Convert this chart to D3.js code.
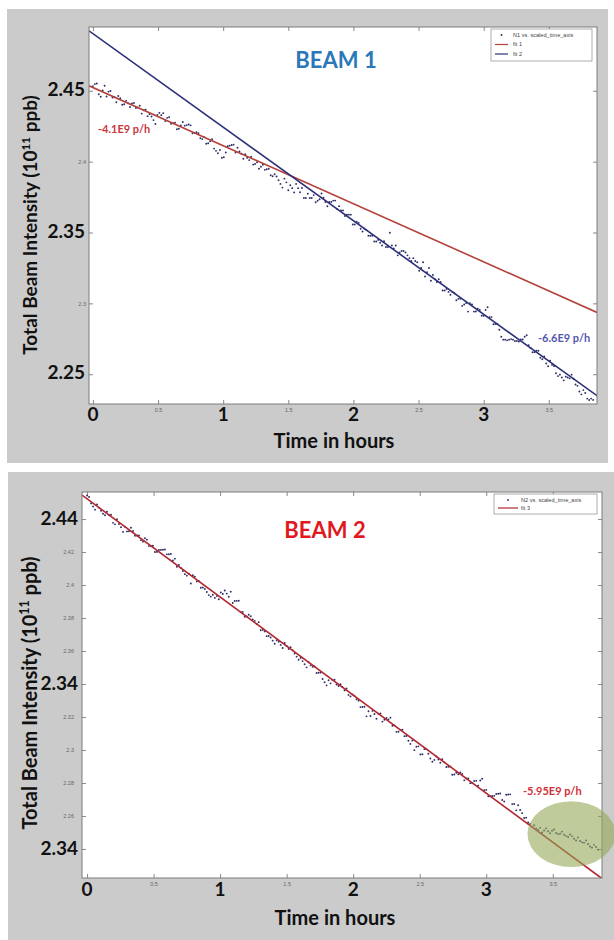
<!DOCTYPE html>
<html>
<head>
<meta charset="utf-8">
<script src="https://cdn.jsdelivr.net/npm/d3@7"></script>
<style>
  body { margin: 0; background: #ffffff; }
  svg { display: block; }
</style>
</head>
<body>
<svg id="fig" width="614" height="940"></svg>
<script>
// ---- data -------------------------------------------------------------
// sample times (hours since start of the fill)
const hours = [
  0.000,0.015,0.030,0.045,0.060,0.075,0.090,0.105,0.120,0.135,
  0.150,0.165,0.180,0.195,0.210,0.225,0.240,0.255,0.270,0.285,
  0.300,0.315,0.330,0.345,0.360,0.375,0.390,0.405,0.420,0.435,
  0.450,0.465,0.480,0.495,0.510,0.525,0.540,0.555,0.570,0.585,
  0.600,0.615,0.630,0.645,0.660,0.675,0.690,0.705,0.720,0.735,
  0.750,0.765,0.780,0.795,0.810,0.825,0.840,0.855,0.870,0.885,
  0.900,0.915,0.930,0.945,0.960,0.975,0.990,1.005,1.020,1.035,
  1.050,1.065,1.080,1.095,1.110,1.125,1.140,1.155,1.170,1.185,
  1.200,1.215,1.230,1.245,1.260,1.275,1.290,1.305,1.320,1.335,
  1.350,1.365,1.380,1.395,1.410,1.425,1.440,1.455,1.470,1.485,
  1.500,1.515,1.530,1.545,1.560,1.575,1.590,1.605,1.620,1.635,
  1.650,1.665,1.680,1.695,1.710,1.725,1.740,1.755,1.770,1.785,
  1.800,1.815,1.830,1.845,1.860,1.875,1.890,1.905,1.920,1.935,
  1.950,1.965,1.980,1.995,2.010,2.025,2.040,2.055,2.070,2.085,
  2.100,2.115,2.130,2.145,2.160,2.175,2.190,2.205,2.220,2.235,
  2.250,2.265,2.280,2.295,2.310,2.325,2.340,2.355,2.370,2.385,
  2.400,2.415,2.430,2.445,2.460,2.475,2.490,2.505,2.520,2.535,
  2.550,2.565,2.580,2.595,2.610,2.625,2.640,2.655,2.670,2.685,
  2.700,2.715,2.730,2.745,2.760,2.775,2.790,2.805,2.820,2.835,
  2.850,2.865,2.880,2.895,2.910,2.925,2.940,2.955,2.970,2.985,
  3.000,3.015,3.030,3.045,3.060,3.075,3.090,3.105,3.120,3.135,
  3.150,3.165,3.180,3.195,3.210,3.225,3.240,3.255,3.270,3.285,
  3.300,3.315,3.330,3.345,3.360,3.375,3.390,3.405,3.420,3.435,
  3.450,3.465,3.480,3.495,3.510,3.525,3.540,3.555,3.570,3.585,
  3.600,3.615,3.630,3.645,3.660,3.675,3.690,3.705,3.720,3.735,
  3.750,3.765,3.780,3.795,3.810,3.825,3.840
];

// total beam intensity, units of 1e11 protons
const beam1 = [
  2.4533,2.4547,2.4551,2.4475,2.4458,2.4502,2.4536,2.4460,2.4494,2.4498,
  2.4452,2.4456,2.4419,2.4463,2.4447,2.4401,2.4405,2.4429,2.4412,2.4386,
  2.4410,2.4414,2.4378,2.4382,2.4395,2.4339,2.4363,2.4367,2.4321,2.4335,
  2.4319,2.4293,2.4266,2.4330,2.4344,2.4328,2.4342,2.4286,2.4309,2.4313,
  2.4267,2.4271,2.4275,2.4229,2.4232,2.4256,2.4280,2.4254,2.4258,2.4262,
  2.4256,2.4200,2.4203,2.4207,2.4201,2.4165,2.4159,2.4173,2.4126,2.4130,
  2.4144,2.4158,2.4092,2.4076,2.4059,2.4083,2.4027,2.4031,2.4065,2.4109,
  2.4113,2.4117,2.4120,2.4064,2.4098,2.4072,2.4056,2.4020,2.4053,2.4027,
  2.4011,2.4035,2.3979,2.3983,2.3996,2.3950,2.3964,2.3978,2.3942,2.3946,
  2.3950,2.3904,2.3897,2.3911,2.3895,2.3869,2.3843,2.3817,2.3880,2.3854,
  2.3798,2.3833,2.3813,2.3783,2.3843,2.3813,2.3784,2.3814,2.3744,2.3744,
  2.3774,2.3744,2.3744,2.3764,2.3714,2.3724,2.3735,2.3775,2.3745,2.3715,
  2.3685,2.3715,2.3715,2.3725,2.3725,2.3665,2.3686,2.3656,2.3656,2.3616,
  2.3626,2.3626,2.3626,2.3556,2.3556,2.3576,2.3567,2.3527,2.3507,2.3527,
  2.3517,2.3477,2.3477,2.3477,2.3437,2.3437,2.3448,2.3428,2.3408,2.3438,
  2.3398,2.3398,2.3498,2.3408,2.3388,2.3408,2.3339,2.3359,2.3369,2.3369,
  2.3359,2.3339,2.3319,2.3299,2.3319,2.3299,2.3290,2.3230,2.3250,2.3290,
  2.3190,2.3220,2.3250,2.3160,2.3200,2.3170,2.3151,2.3171,2.3151,2.3091,
  2.3091,2.3101,2.3081,2.3061,2.3081,2.3071,2.3022,2.3032,2.3032,2.2982,
  2.2992,2.3002,2.2942,2.3002,2.2992,2.2942,2.2943,2.2963,2.2953,2.2913,
  2.2913,2.2953,2.2973,2.2903,2.2903,2.2853,2.2854,2.2854,2.2814,2.2764,
  2.2744,2.2744,2.2739,2.2744,2.2748,2.2744,2.2735,2.2735,2.2731,2.2745,
  2.2745,2.2765,2.2775,2.2705,2.2685,2.2655,2.2656,2.2666,2.2666,2.2616,
  2.2606,2.2626,2.2576,2.2556,2.2596,2.2566,2.2557,2.2507,2.2487,2.2497,
  2.2477,2.2457,2.2483,2.2477,2.2471,2.2497,2.2468,2.2428,2.2418,2.2378,
  2.2358,2.2388,2.2368,2.2328,2.2318,2.2328,2.2319
];

const beam2 = [
  2.4543,2.4534,2.4495,2.4476,2.4457,2.4488,2.4469,2.4450,2.4432,2.4423,
  2.4444,2.4425,2.4426,2.4377,2.4368,2.4399,2.4370,2.4351,2.4322,2.4353,
  2.4325,2.4326,2.4347,2.4328,2.4299,2.4300,2.4301,2.4272,2.4263,2.4284,
  2.4275,2.4236,2.4237,2.4238,2.4200,2.4201,2.4212,2.4213,2.4214,2.4215,
  2.4186,2.4187,2.4188,2.4149,2.4160,2.4111,2.4122,2.4103,2.4085,2.4066,
  2.4057,2.4068,2.4009,2.4060,2.4051,2.4022,2.4023,2.3984,2.3985,2.3976,
  2.3958,2.3939,2.3930,2.3941,2.3922,2.3933,2.3914,2.3955,2.3946,2.3967,
  2.3948,2.3929,2.3960,2.3891,2.3903,2.3904,2.3905,2.3836,2.3837,2.3808,
  2.3809,2.3820,2.3811,2.3792,2.3783,2.3764,2.3775,2.3726,2.3728,2.3719,
  2.3690,2.3691,2.3682,2.3663,2.3644,2.3665,2.3656,2.3637,2.3618,2.3649,
  2.3631,2.3612,2.3623,2.3604,2.3585,2.3566,2.3547,2.3558,2.3539,2.3520,
  2.3501,2.3532,2.3513,2.3504,2.3506,2.3467,2.3468,2.3469,2.3430,2.3411,
  2.3392,2.3423,2.3404,2.3425,2.3426,2.3397,2.3388,2.3399,2.3381,2.3362,
  2.3373,2.3334,2.3325,2.3336,2.3327,2.3308,2.3299,2.3260,2.3261,2.3262,
  2.3204,2.3235,2.3206,2.3237,2.3218,2.3189,2.3220,2.3221,2.3172,2.3183,
  2.3194,2.3185,2.3196,2.3147,2.3149,2.3110,2.3111,2.3122,2.3123,2.3084,
  2.3085,2.3056,2.3037,2.3058,2.2999,2.3020,2.3022,2.2973,2.2974,2.3005,
  2.3006,2.2977,2.2948,2.2929,2.2940,2.2961,2.2942,2.2923,2.2944,2.2925,
  2.2897,2.2898,2.2899,2.2850,2.2851,2.2862,2.2853,2.2864,2.2855,2.2816,
  2.2827,2.2828,2.2799,2.2800,2.2812,2.2813,2.2784,2.2815,2.2826,2.2757,
  2.2758,2.2719,2.2720,2.2721,2.2722,2.2733,2.2735,2.2736,2.2697,2.2688,
  2.2729,2.2730,2.2731,2.2672,2.2673,2.2634,2.2665,2.2636,2.2617,2.2588,
  2.2590,2.2561,2.2552,2.2533,2.2544,2.2525,2.2515,2.2528,2.2500,2.2512,
  2.2525,2.2507,2.2495,2.2510,2.2518,2.2497,2.2490,2.2492,2.2505,2.2486,
  2.2478,2.2473,2.2488,2.2478,2.2462,2.2452,2.2470,2.2448,2.2440,2.2437,
  2.2452,2.2430,2.2415,2.2408,2.2425,2.2412,2.2395
];

// linear fits: intercept (1e11 p) and decay rate (protons per hour)
const fitNames      = ["fit 1", "fit 2", "fit 3"];
const fitIntercepts = [2.4523, 2.4903, 2.4523];
const fitSlopes     = [-4.1e9, -6.6e9, -5.95e9];

const seriesNames = ["N1 vs. scaled_time_axis", "N2 vs. scaled_time_axis"];
const panelTitles = ["BEAM 1", "BEAM 2"];

// tick values and the large overlaid tick labels
const xTicks        = [0, 0.5, 1, 1.5, 2, 2.5, 3, 3.5];
const xBigTicks     = [0, 1, 2, 3];
const yTicks1       = [2.25, 2.3, 2.35, 2.4, 2.45];
const yBigTicks1    = [2.45, 2.35, 2.25];
const yBigText1     = ["2.45", "2.35", "2.25"];
const yTicks2       = [2.24, 2.26, 2.28, 2.3, 2.32, 2.34, 2.36, 2.38, 2.4, 2.42, 2.44];
const yBigTicks2    = [2.44, 2.34, 2.24];
const yBigText2     = ["2.44", "2.34", "2.34"];

// highlighted tail of beam 2 (centre in hours / 1e11 p, half-widths)
const tailHighlight = { t: 3.64, v: 2.249, dt: 0.33, dv: 0.020 };

// ---- styling ------------------------------------------------------------
const BOLD = "Lato, 'Open Sans', 'DejaVu Sans', sans-serif";
const SMALL = "'Liberation Sans', Arial, sans-serif";
const C = {
  panel: "#cbcbcb",
  frame: "#7d7d7d",
  point: "#2c2c68",
  fitRed: "#b4413a",
  fitBlue: "#2c3078",
  fitRed2: "#b3262e",
  text: "#111111",
  tick: "#6a6a6a"
};

const svg = d3.select("#fig");

function drawPanel(cfg) {
  const g = svg.append("g");
  const P = cfg.plot;

  g.append("rect")
    .attr("x", cfg.bg[0]).attr("y", cfg.bg[1])
    .attr("width", cfg.bg[2]).attr("height", cfg.bg[3])
    .attr("fill", C.panel);

  const x = d3.scaleLinear().domain(cfg.xDomain).range([P.left, P.right]);
  const y = d3.scaleLinear().domain(cfg.yDomain).range([P.bottom, P.top]);

  g.append("rect")
    .attr("x", P.left).attr("y", P.top)
    .attr("width", P.right - P.left).attr("height", P.bottom - P.top)
    .attr("fill", "#ffffff");

  const clipId = "clip" + cfg.id;
  g.append("clipPath").attr("id", clipId)
    .append("rect")
    .attr("x", P.left).attr("y", P.top)
    .attr("width", P.right - P.left).attr("height", P.bottom - P.top);

  // axes: small MATLAB-style tick labels, ticks pointing inward on all sides;
  // values that carry a large overlaid label get no small label
  const fmtExcept = big => d => big.some(b => Math.abs(b - d) < 1e-9) ? "" : String(+d.toFixed(2));
  const styleAxis = sel => {
    sel.select(".domain").remove();
    sel.selectAll(".tick line").attr("stroke", C.tick).attr("stroke-width", 0.8);
    sel.selectAll(".tick text").attr("fill", "#666").attr("font-family", SMALL)
      .attr("font-size", 5.5);
  };
  g.append("g").attr("transform", `translate(0,${P.bottom})`)
    .call(d3.axisBottom(x).tickValues(xTicks).tickSize(-4).tickPadding(4).tickFormat(fmtExcept(xBigTicks)))
    .call(styleAxis);
  g.append("g").attr("transform", `translate(0,${P.top})`)
    .call(d3.axisTop(x).tickValues(xTicks).tickSize(-4).tickFormat(""))
    .call(styleAxis);
  g.append("g").attr("transform", `translate(${P.left},0)`)
    .call(d3.axisLeft(y).tickValues(cfg.yTicks).tickSize(-4).tickPadding(cfg.yPad).tickFormat(fmtExcept(cfg.yBig)))
    .call(styleAxis);
  g.append("g").attr("transform", `translate(${P.right},0)`)
    .call(d3.axisRight(y).tickValues(cfg.yTicks).tickSize(-4).tickFormat(""))
    .call(styleAxis);

  const inner = g.append("g").attr("clip-path", `url(#${clipId})`);

  // measured intensity
  inner.append("g").selectAll("circle")
    .data(cfg.values.map((v, i) => [hours[i], v]))
    .join("circle")
    .attr("cx", d => x(d[0])).attr("cy", d => y(d[1]))
    .attr("r", 0.95).attr("fill", C.point);

  // fitted lines across the full time window
  const line = d3.line().x(d => x(d[0])).y(d => y(d[1]));
  cfg.fits.forEach(f => {
    const k = fitSlopes[f.idx] / 1e11;
    const a = fitIntercepts[f.idx];
    const pts = cfg.xDomain.map(t => [t, a + k * t]);
    inner.append("path").attr("d", line(pts))
      .attr("fill", "none").attr("stroke", f.color).attr("stroke-width", 1.6);
  });

  g.append("rect")
    .attr("x", P.left).attr("y", P.top)
    .attr("width", P.right - P.left).attr("height", P.bottom - P.top)
    .attr("fill", "none").attr("stroke", C.frame).attr("stroke-width", 1);

  // legend
  const L = cfg.legend;
  const lg = g.append("g");
  lg.append("rect").attr("x", L.x).attr("y", L.y).attr("width", L.w).attr("height", L.h)
    .attr("fill", "#fff").attr("stroke", "#8a8a8a").attr("stroke-width", 0.7);
  const rows = [{ name: seriesNames[cfg.series], dot: true }]
    .concat(cfg.fits.map(f => ({ name: fitNames[f.idx], color: f.color })));
  rows.forEach((r, i) => {
    const ry = L.y + L.row0 + i * L.rowH;
    if (r.dot) {
      lg.append("circle").attr("cx", L.x + L.sym + L.symW / 2).attr("cy", ry).attr("r", 0.9).attr("fill", C.point);
    } else {
      lg.append("line").attr("x1", L.x + L.sym).attr("x2", L.x + L.sym + L.symW)
        .attr("y1", ry).attr("y2", ry).attr("stroke", r.color).attr("stroke-width", 1.2);
    }
    lg.append("text").attr("x", L.x + L.textX).attr("y", ry + 1.8)
      .attr("font-family", SMALL).attr("font-size", 5.6).attr("fill", "#444")
      .text(r.name);
  });

  // large overlaid tick labels
  g.append("g").selectAll("text").data(xBigTicks).join("text")
    .attr("x", d => x(d)).attr("y", cfg.xBigY)
    .attr("text-anchor", "middle").attr("font-family", BOLD).attr("font-weight", 700)
    .attr("font-size", 19).attr("fill", C.text).text(d => d);
  g.append("g").selectAll("text").data(cfg.yBig).join("text")
    .attr("x", P.left - 4).attr("y", d => y(d) + cfg.yBigDy)
    .attr("text-anchor", "end").attr("font-family", BOLD).attr("font-weight", 700)
    .attr("font-size", 19).attr("fill", C.text).text((d, i) => cfg.yBigText[i]);

  // axis titles
  g.append("text").attr("x", cfg.xTitle[0]).attr("y", cfg.xTitle[1])
    .attr("text-anchor", "middle").attr("font-family", BOLD).attr("font-weight", 700)
    .attr("font-size", 20).attr("fill", C.text).text("Time in hours");
  const yt = g.append("text")
    .attr("transform", `translate(${cfg.yTitle[0]},${cfg.yTitle[1]}) rotate(-90)`)
    .attr("text-anchor", "middle").attr("font-family", BOLD).attr("font-weight", 700)
    .attr("font-size", cfg.yTitleSize).attr("fill", C.text);
  yt.append("tspan").text("Total Beam Intensity (10");
  yt.append("tspan").attr("font-size", cfg.yTitleSize * 0.62).attr("dy", -cfg.yTitleSize * 0.38).text("11");
  yt.append("tspan").attr("dy", cfg.yTitleSize * 0.38).text(" ppb)");

  // panel title
  g.append("text").attr("x", cfg.title[0]).attr("y", cfg.title[1])
    .attr("text-anchor", "middle").attr("font-family", BOLD).attr("font-weight", 700)
    .attr("font-size", 22).attr("fill", cfg.titleColor).text(panelTitles[cfg.series]);

  // decay-rate annotations
  cfg.notes.forEach(n => {
    g.append("text").attr("x", n.x).attr("y", n.y)
      .attr("font-family", BOLD).attr("font-weight", 700).attr("font-size", 11)
      .attr("fill", n.color).text(String(fitSlopes[n.idx] / 1e9) + "E9 p/h");
  });

  return { g, x, y };
}

// ---- beam 1 ---------------------------------------------------------------
drawPanel({
  id: 1, series: 0, values: beam1,
  bg: [7, 9, 601, 454],
  plot: { left: 89, right: 597, top: 27, bottom: 404 },
  xDomain: [-0.03, 3.87], yDomain: [2.229, 2.495],
  yTicks: yTicks1, yPad: 3,
  yBig: yBigTicks1, yBigText: yBigText1, yBigDy: 5,
  xBigY: 421,
  fits: [{ idx: 0, color: C.fitRed }, { idx: 1, color: C.fitBlue }],
  legend: { x: 491, y: 29, w: 101, h: 32, row0: 6, rowH: 9.5, sym: 4, symW: 13, textX: 22 },
  xTitle: [334, 448], yTitle: [37, 225], yTitleSize: 19,
  title: [336, 68], titleColor: "#2a78b8",
  notes: [{ idx: 0, x: 98, y: 133, color: "#c8373c" },
          { idx: 1, x: 538, y: 342, color: "#5558b0" }]
});

// ---- beam 2 ---------------------------------------------------------------
const p2 = drawPanel({
  id: 2, series: 1, values: beam2,
  bg: [8, 472, 606, 468],
  plot: { left: 82, right: 602, top: 492, bottom: 878 },
  xDomain: [-0.038, 3.87], yDomain: [2.2224, 2.4564],
  yTicks: yTicks2, yPad: 8,
  yBig: yBigTicks2, yBigText: yBigText2, yBigDy: 6,
  xBigY: 896,
  fits: [{ idx: 2, color: C.fitRed2 }],
  legend: { x: 494, y: 494, w: 103, h: 20, row0: 6, rowH: 8, sym: 4, symW: 20, textX: 27 },
  xTitle: [335, 925], yTitle: [37, 693], yTitleSize: 20,
  title: [325, 538], titleColor: "#e0191e",
  notes: [{ idx: 2, x: 523, y: 795, color: "#d0303a" }]
});

// translucent marker over the flattening tail of beam 2
p2.g.append("ellipse")
  .attr("cx", p2.x(tailHighlight.t)).attr("cy", p2.y(tailHighlight.v))
  .attr("rx", p2.x(tailHighlight.t + tailHighlight.dt) - p2.x(tailHighlight.t))
  .attr("ry", p2.y(tailHighlight.v - tailHighlight.dv) - p2.y(tailHighlight.v))
  .attr("fill", "rgb(148,168,88)").attr("fill-opacity", 0.6);
</script>
</body>
</html>
